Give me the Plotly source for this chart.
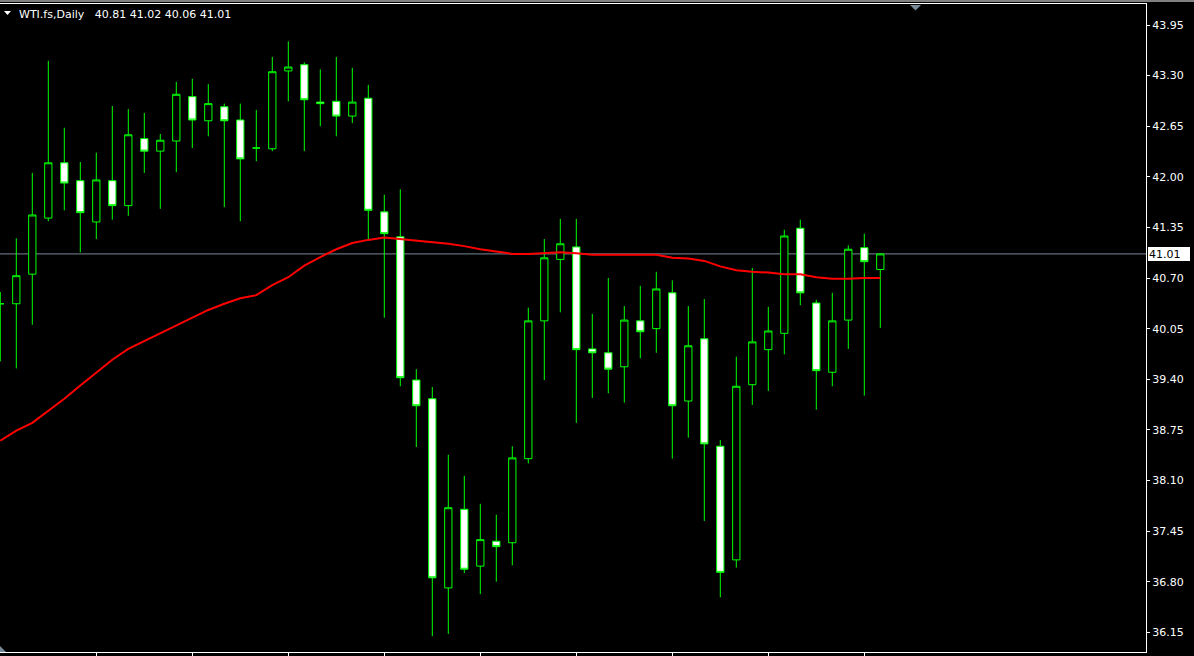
import plotly.graph_objects as go

# ---- data (WTI.fs, Daily) ----
bar_index = list(range(56))
open_ = [40.37, 40.37, 40.75, 41.47, 42.18, 41.95, 41.42, 41.95, 41.63, 42.49,
         42.33, 42.46, 43.03, 42.72, 42.90, 42.73, 42.37, 42.36, 43.36, 43.44,
         42.96, 42.97, 42.78, 43.01, 41.55, 41.23, 39.39, 39.15, 36.72, 37.73,
         37.00, 37.32, 37.30, 38.38, 40.15, 40.94, 41.10, 39.79, 39.74, 39.56,
         40.15, 40.05, 40.51, 39.12, 39.92, 38.54, 37.08, 39.33, 39.78, 39.99,
         41.34, 40.38, 39.49, 40.16, 41.09, 40.81]
high = [40.52, 41.21, 42.05, 43.49, 42.63, 42.19, 42.31, 42.91, 42.87, 42.82,
        42.55, 43.22, 43.26, 43.19, 42.94, 42.94, 42.86, 43.54, 43.74, 43.47,
        43.38, 43.54, 43.40, 43.18, 41.77, 41.84, 39.53, 39.30, 38.43, 38.16,
        37.80, 37.66, 38.54, 40.32, 41.20, 41.46, 41.46, 40.24, 40.70, 40.34,
        40.60, 40.78, 40.67, 40.34, 40.43, 38.62, 39.69, 40.83, 40.33, 41.32,
        41.45, 40.42, 40.51, 41.12, 41.27, 41.02]
low = [39.63, 39.54, 40.10, 41.43, 41.57, 41.03, 41.20, 41.45, 41.50, 42.05,
       41.59, 42.06, 42.37, 42.52, 41.61, 41.43, 42.20, 42.33, 42.97, 42.33,
       42.65, 42.52, 42.69, 41.20, 40.19, 39.31, 38.53, 36.10, 36.13, 36.91,
       36.64, 36.80, 37.01, 38.32, 39.39, 40.26, 38.84, 39.16, 39.22, 39.10,
       39.67, 39.74, 38.38, 38.65, 37.58, 36.60, 36.98, 39.07, 39.25, 39.72,
       40.35, 39.01, 39.31, 39.79, 39.19, 40.06]
close = [40.37, 40.73, 41.51, 42.18, 41.92, 41.54, 41.96, 41.63, 42.54, 42.33,
         42.47, 43.06, 42.73, 42.94, 42.72, 42.23, 42.37, 43.35, 43.41, 42.99,
         42.94, 42.78, 42.96, 41.57, 41.27, 39.42, 39.06, 36.85, 37.75, 36.96,
         37.34, 37.25, 38.39, 40.15, 40.96, 41.14, 39.78, 39.74, 39.53, 40.16,
         40.01, 40.56, 39.06, 39.83, 38.57, 36.92, 39.31, 39.88, 40.02, 41.24,
         40.51, 39.51, 40.15, 41.07, 40.91, 41.01]
moving_avg = [38.61, 38.74, 38.84, 38.99, 39.15, 39.32, 39.49, 39.65, 39.79, 39.89,
              39.99, 40.10, 40.20, 40.29, 40.37, 40.44, 40.48, 40.61, 40.71, 40.86,
              40.97, 41.07, 41.15, 41.19, 41.22, 41.20, 41.18, 41.16, 41.14, 41.11,
              41.07, 41.04, 41.01, 41.01, 41.02, 41.03, 41.02, 41.00, 41.00, 41.00,
              41.00, 41.00, 40.96, 40.95, 40.92, 40.85, 40.80, 40.78, 40.77, 40.75,
              40.75, 40.71, 40.69, 40.69, 40.70, 40.70]
price_ticks = [36.15, 36.80, 37.45, 38.10, 38.75, 39.40, 40.05, 40.70, 41.35,
               42.00, 42.65, 43.30, 43.95]
price_tick_labels = ["%.2f" % v for v in price_ticks]
week_ticks = [6, 12, 18, 24, 30, 36, 42, 48, 54]
last_price = 41.01
header = "WTI.fs,Daily\u00a0\u00a0 40.81 41.02 40.06 41.01"

FONT = "DejaVu Sans"
W, H = 1194, 656
ML, MR, MT, MB = 0, 48, 4, 4
PW, PH = W - ML - MR, H - MT - MB


def px(x):
    return x / PW


def py(y):
    return (H - MB - y) / PH


fig = go.Figure()
fig.add_trace(go.Candlestick(
    x=bar_index, open=open_, high=high, low=low, close=close,
    increasing=dict(line=dict(color="#00ff00", width=1), fillcolor="#000000"),
    decreasing=dict(line=dict(color="#00ff00", width=1), fillcolor="#ffffff"),
    whiskerwidth=0, hoverinfo="skip", showlegend=False,
))
fig.add_trace(go.Scatter(
    x=bar_index, y=moving_avg, mode="lines",
    line=dict(color="#ff0000", width=2), hoverinfo="skip", showlegend=False,
))

shapes = [
    # current price line
    dict(type="line", xref="paper", yref="y", x0=0, x1=1, y0=last_price, y1=last_price,
         line=dict(color="#778899", width=1), layer="below"),
    # window chrome band at top
    dict(type="rect", xref="paper", yref="paper", x0=0, x1=W / PW, y0=py(2), y1=py(0),
         fillcolor="#808080", line=dict(width=0)),
    # chart shift marker
    dict(type="path", xref="paper", yref="paper",
         path="M %f,%f L %f,%f L %f,%f Z" % (px(910), py(5), px(921), py(5), px(915.5), py(10.5)),
         fillcolor="#778899", line=dict(width=0)),
    # bottom-left marker
    dict(type="path", xref="paper", yref="paper",
         path="M %f,%f L %f,%f L %f,%f Z" % (px(0), py(646), px(0), py(652), px(6), py(652)),
         fillcolor="#778899", line=dict(width=0)),
    # header triangle
    dict(type="path", xref="paper", yref="paper",
         path="M %f,%f L %f,%f L %f,%f Z" % (px(4), py(11), px(11), py(11), px(7.5), py(15)),
         fillcolor="#ffffff", line=dict(width=0)),
]

annotations = [
    dict(xref="paper", yref="paper", x=px(17), y=py(14.5), xanchor="left", yanchor="middle",
         text=header, showarrow=False, font=dict(family=FONT, size=11, color="#ffffff")),
    dict(xref="paper", yref="y", x=1, y=last_price, xanchor="left", yanchor="middle",
         xshift=2, text="%.2f" % last_price, showarrow=False, bgcolor="#ffffff",
         bordercolor="#ffffff", borderwidth=0, borderpad=1, width=40, height=12, align="left",
         font=dict(family=FONT, size=11, color="#000000")),
]

fig.update_layout(
    width=W, height=H,
    margin=dict(l=ML, r=MR, t=MT, b=MB, pad=0),
    paper_bgcolor="#000000", plot_bgcolor="#000000",
    boxgap=0.35,
    shapes=shapes, annotations=annotations,
    font=dict(family=FONT, size=11, color="#ffffff"),
    xaxis=dict(range=[-0.3 / 16, (PW - 0.3) / 16], rangeslider=dict(visible=False),
               showgrid=False, zeroline=False, showline=True, mirror=True,
               linecolor="#ffffff", linewidth=1, tickmode="array", tickvals=week_ticks,
               ticks="outside", ticklen=3, tickcolor="#ffffff", showticklabels=False),
    yaxis=dict(range=[35.897, 44.2197], side="right", showgrid=False, zeroline=False,
               showline=True, linecolor="#ffffff", linewidth=1,
               tickmode="array", tickvals=price_ticks, ticktext=price_tick_labels,
               ticks="outside", ticklen=3, tickcolor="#ffffff",
               tickfont=dict(family=FONT, size=11, color="#ffffff")),
    hovermode=False,
)

fig.write_html(
    "out.html",
    config={"displayModeBar": False},
    post_script="document.body.style.margin='0px';document.body.style.background='#000';",
)
